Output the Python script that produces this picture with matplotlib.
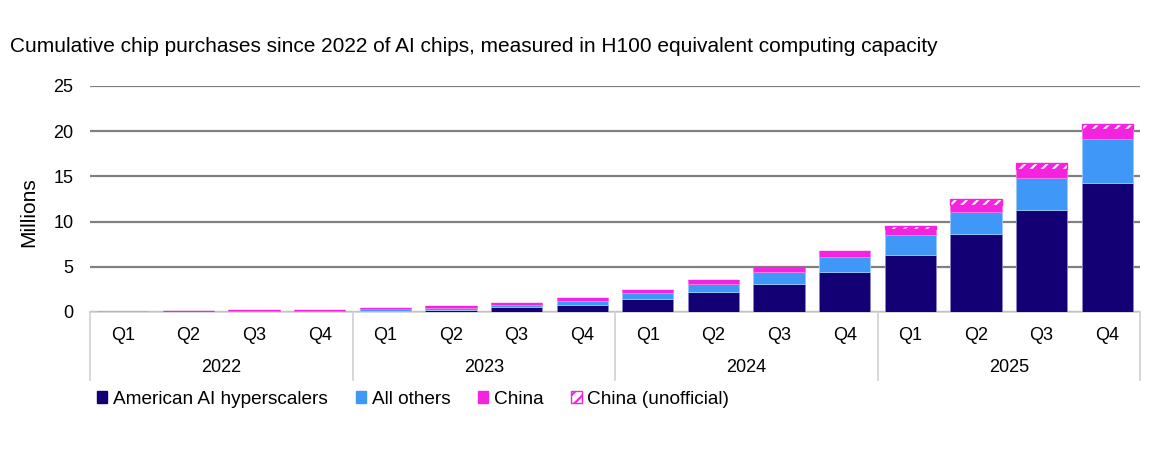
import matplotlib
matplotlib.use("Agg")
import matplotlib.pyplot as plt
from matplotlib.patches import Patch
from matplotlib.transforms import blended_transform_factory

plt.rcParams['font.family'] = ['Liberation Sans', 'DejaVu Sans']
plt.rcParams['hatch.linewidth'] = 1.6

title = "Cumulative chip purchases since 2022 of AI chips, measured in H100 equivalent computing capacity"
years = ["2022", "2023", "2024", "2025"]
quarters = ["Q1", "Q2", "Q3", "Q4"]

american = [0.0, 0.0, 0.05, 0.05, 0.15, 0.25, 0.5, 0.8, 1.4, 2.2, 3.05, 4.4, 6.3, 8.6, 11.3, 14.3]
others   = [0.0, 0.0, 0.1, 0.1, 0.15, 0.15, 0.3, 0.45, 0.7, 0.85, 1.35, 1.7, 2.2, 2.45, 3.55, 4.8]
china    = [0.0, 0.15, 0.1, 0.1, 0.15, 0.25, 0.25, 0.3, 0.3, 0.45, 0.55, 0.7, 0.65, 0.75, 1.0, 1.1]
china_unofficial = [0.0, 0.0, 0.0, 0.0, 0.0, 0.0, 0.0, 0.0, 0.0, 0.0, 0.0, 0.0, 0.35, 0.65, 0.6, 0.65]

c_am = '#130075'
c_ot = '#3f97f7'
c_cn = '#f522e0'

fig = plt.figure(figsize=(11.5, 4.5), dpi=100)
ax = fig.add_axes([90/1150, (450-312)/450, 1050/1150, 226/450])

n = len(american)
x = list(range(n))
w = 0.78
b1 = american
b2 = [a + o for a, o in zip(american, others)]
b3 = [a + c for a, c in zip(b2, china)]

ax.bar(x, american, w, color=c_am, edgecolor='#8a86c8', linewidth=0.6, zorder=3)
ax.bar(x, others, w, bottom=b1, color=c_ot, edgecolor='#9ccaf8', linewidth=0.6, zorder=3)
ax.bar(x, china, w, bottom=b2, color=c_cn, edgecolor='#f77ae8', linewidth=0.6, zorder=3)
# unofficial: magenta fill with white diagonal hatch, magenta outline
ax.bar(x, china_unofficial, w, bottom=b3, color=c_cn, edgecolor='white', hatch='///',
       linewidth=0, zorder=3)
ax.bar(x, china_unofficial, w, bottom=b3, facecolor='none', edgecolor=c_cn,
       linewidth=1.0, zorder=4)

ax.set_xlim(-0.5, n - 0.5)
ax.set_ylim(0, 25)
ax.set_yticks([0, 5, 10, 15, 20, 25])
ax.tick_params(axis='y', length=0, labelsize=13, pad=12)
ax.yaxis.grid(True, color='#808080', linewidth=1.6, zorder=0)
for s in ['top', 'right', 'left']:
    ax.spines[s].set_visible(False)
ax.spines['bottom'].set_color('#d0d0d0')
ax.spines['bottom'].set_linewidth(1.2)

ax.set_xticks(x)
ax.set_xticklabels(quarters * len(years), fontsize=13)
ax.tick_params(axis='x', length=0, pad=11)

ax.set_ylabel("Millions", fontsize=15)
ax.yaxis.set_label_coords((38 - 90) / 1050, (312 - 212) / 226)

trans = blended_transform_factory(ax.transData, ax.transAxes)
bottom_y = (312 - 380) / 226
for i in range(len(years) + 1):
    ax.plot([i * 4 - 0.5, i * 4 - 0.5], [0, bottom_y], transform=trans, color='#d0d0d0',
            linewidth=1.2, clip_on=False)
for i, yr in enumerate(years):
    ax.text(i * 4 + 1.5, (312 - 368) / 226, yr, transform=trans, ha='center', va='center', fontsize=13)

fig.text(10/1150, 1 - 47/450, title, fontsize=15, ha='left', va='center')

handles = [Patch(facecolor=c_am, edgecolor=c_am),
           Patch(facecolor=c_ot, edgecolor=c_ot),
           Patch(facecolor=c_cn, edgecolor=c_cn),
           Patch(facecolor='white', edgecolor=c_cn, hatch='///')]
labels = ["American AI hyperscalers", "All others", "China", "China (unofficial)"]
leg = fig.legend(handles, labels, loc='center left', bbox_to_anchor=(97/1150, 1 - 399/450),
                 ncol=4, frameon=False, fontsize=13.7, handlelength=0.55, handleheight=0.55,
                 handletextpad=0.3, columnspacing=1.45, borderaxespad=0, borderpad=0)

fig.savefig("out.png", dpi=100)
